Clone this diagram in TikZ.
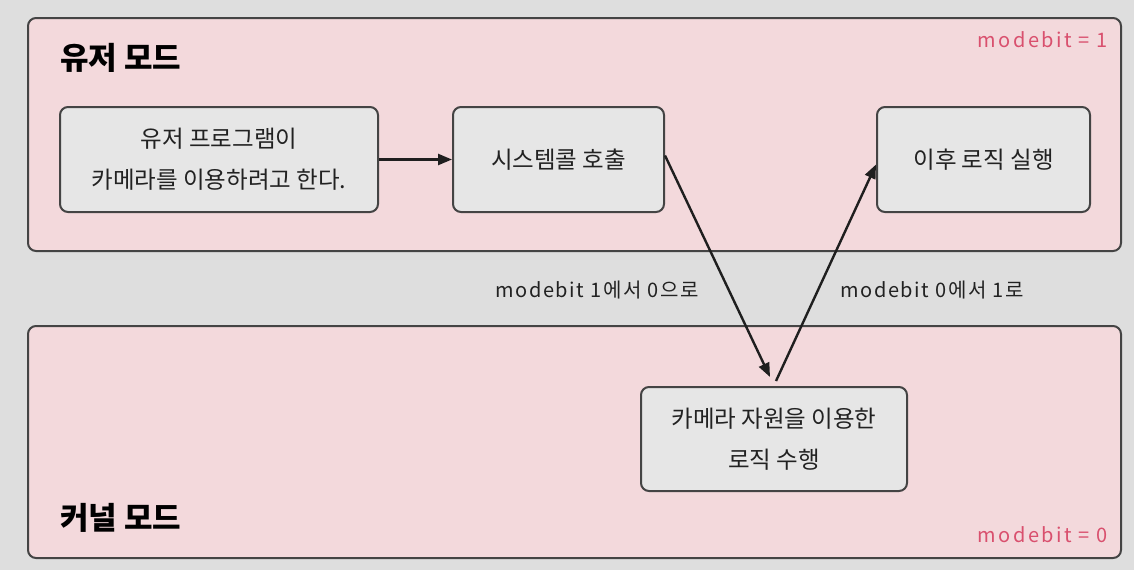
\documentclass[tikz,border=0pt]{standalone}
\usepackage{fontspec}
\setmainfont{Noto Sans CJK KR}
\usetikzlibrary{arrows.meta}
\definecolor{bg}{HTML}{DEDEDE}
\definecolor{panelfill}{HTML}{F3D9DC}
\definecolor{boxfill}{HTML}{E6E6E6}
\definecolor{edge}{HTML}{444444}
\definecolor{txt}{HTML}{222222}
\definecolor{pinktxt}{HTML}{D9506E}
\tikzset{
  panel/.style={draw=edge, fill=panelfill, line width=2pt, rounded corners=8pt, anchor=north west, inner sep=0pt},
  stepbox/.style={draw=edge, fill=boxfill, line width=2pt, rounded corners=8pt, minimum height=105pt, align=center, text=txt, font=\fontsize{23.5}{41}\selectfont},
  title/.style={font=\fontsize{31}{34}\selectfont\bfseries, text=black, anchor=west, inner sep=0pt},
  modelabel/.style={font=\fontsize{20}{22}\selectfont\addfontfeature{LetterSpace=12}, text=pinktxt, anchor=east, inner sep=0pt},
  edgelabel/.style={font=\fontsize{20}{22}\selectfont\addfontfeature{LetterSpace=8}, text=txt, inner sep=0pt},
  arr/.style={draw=black!88, line width=2.4pt, -{Triangle[length=14pt,width=11pt]}}
}
\begin{document}
\begin{tikzpicture}[x=1pt,y=-1pt]
\fill[bg] (0,0) rectangle (1134,570);
\useasboundingbox (0,0) rectangle (1134,570);

% panels
\node[panel, minimum width=1093pt, minimum height=233pt] (user) at (27,17) {};
\node[panel, minimum width=1093pt, minimum height=232pt] (kernel) at (27,325) {};

\node[title] (usertitle) at (60,58) {유저 모드};
\node[title] (kerneltitle) at (60,518) {커널 모드};
\node[modelabel] (m1) at (1108,40) {modebit = 1};
\node[modelabel] (m0) at (1108,535) {modebit = 0};

% boxes
\node[stepbox, minimum width=318pt] (a) at (219,159.5) {유저 프로그램이\\카메라를 이용하려고 한다.};
\node[stepbox, minimum width=211pt] (b) at (558.5,159.5) {시스템콜 호출};
\node[stepbox, minimum width=213pt] (c) at (983.5,159.5) {이후 로직 실행};
\node[stepbox, minimum width=266pt, minimum height=104pt] (d) at (774,439) {카메라 자원을 이용한\\로직 수행};

% connectors
\draw[arr] (a.east) -- (b.west);
\draw[arr] ([yshift=4pt]b.east) -- ([xshift=-4pt,yshift=9pt]d.north);
\draw[arr] ([xshift=2pt,yshift=5pt]d.north) -- ([yshift=-5pt]c.west);

\node[edgelabel] (l1) at (597,290) {modebit 1에서 0으로};
\node[edgelabel] (l2) at (932,290) {modebit 0에서 1로};
\end{tikzpicture}
\end{document}
